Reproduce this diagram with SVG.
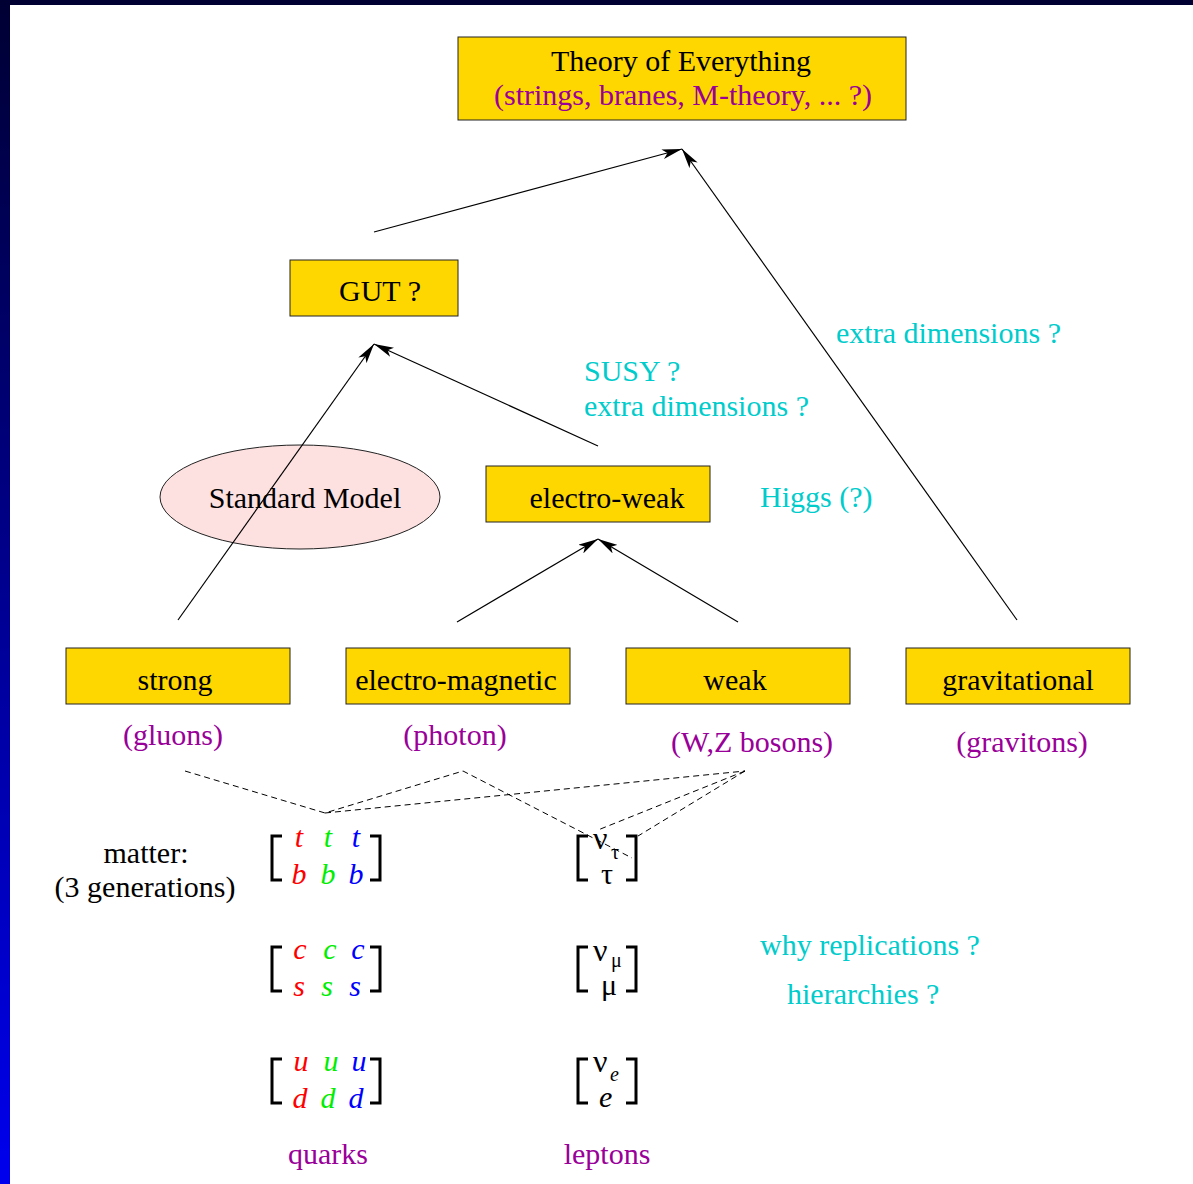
<svg xmlns="http://www.w3.org/2000/svg" width="1193" height="1184" viewBox="0 0 1193 1184">
<defs>
<linearGradient id="side" x1="0" y1="0" x2="0" y2="1">
<stop offset="0" stop-color="#000033"/>
<stop offset="1" stop-color="#0000ee"/>
</linearGradient>
<marker id="ah" viewBox="0 0 20 10" refX="20" refY="5" markerWidth="20" markerHeight="10" markerUnits="userSpaceOnUse" orient="auto">
<path d="M0,0 L20,5 L0,10 L5,5 Z" fill="#000"/>
</marker>
<style>
text{font-family:"Liberation Serif","Times New Roman",serif;font-size:30px;fill:#000}
.c{text-anchor:middle}
.p{fill:#990099}
.cy{fill:#00cccc}
.box{fill:#ffd700;stroke:#222;stroke-width:1}
.arr{stroke:#000;stroke-width:1.2;fill:none;marker-end:url(#ah)}
.dash{stroke:#000;stroke-width:1;fill:none;stroke-dasharray:6,4}
.br{stroke:#000;stroke-width:3;fill:none}
.i{font-style:italic}
.r{fill:#ff0000}.g{fill:#00ee00}.b{fill:#0000ff}
.sub{font-size:20px}
.nu{font-size:32px}
</style>
</defs>
<rect x="0" y="0" width="1193" height="1184" fill="#fff"/>
<rect x="0" y="0" width="1193" height="5" fill="#000033"/>
<rect x="0" y="0" width="10" height="1184" fill="url(#side)"/>

<g id="sm">
<ellipse cx="300" cy="497" rx="140" ry="52" fill="#fde0e0" stroke="#222" stroke-width="1"/>
<text class="c" x="305" y="508">Standard Model</text>
</g>

<g id="connectors">
<line class="arr" x1="374" y1="232" x2="682" y2="149"/>
<line class="arr" x1="1017" y1="620" x2="682" y2="149"/>
<line class="arr" x1="178" y1="620" x2="374" y2="344"/>
<line class="arr" x1="598" y1="446" x2="374" y2="344"/>
<line class="arr" x1="457" y1="622" x2="598" y2="539"/>
<line class="arr" x1="738" y1="622" x2="598" y2="539"/>
<polyline class="dash" points="185,771 325,813 463,771 632,858"/>
<line class="dash" x1="325" y1="813" x2="745" y2="771"/>
<line class="dash" x1="745" y1="771" x2="598" y2="830"/>
<line class="dash" x1="745" y1="771" x2="638" y2="836"/>
</g>

<g id="toe">
<rect class="box" x="458" y="37" width="448" height="83"/>
<text class="c" x="681" y="71">Theory of Everything</text>
<text class="c p" x="683" y="105">(strings, branes, M-theory, ... ?)</text>
</g>
<g id="gut">
<rect class="box" x="290" y="260" width="168" height="56"/>
<text class="c" x="380" y="301">GUT ?</text>
</g>
<g id="ew">
<rect class="box" x="486" y="466" width="224" height="56"/>
<text class="c" x="607" y="508">electro-weak</text>
</g>
<g id="strong">
<rect class="box" x="66" y="648" width="224" height="56"/>
<text class="c" x="175" y="690">strong</text>
<text class="c p" x="173" y="745">(gluons)</text>
</g>
<g id="em">
<rect class="box" x="346" y="648" width="224" height="56"/>
<text class="c" x="456" y="690">electro-magnetic</text>
<text class="c p" x="455" y="745">(photon)</text>
</g>
<g id="weak">
<rect class="box" x="626" y="648" width="224" height="56"/>
<text class="c" x="735" y="690">weak</text>
<text class="c p" x="752" y="752">(W,Z bosons)</text>
</g>
<g id="grav">
<rect class="box" x="906" y="648" width="224" height="56"/>
<text class="c" x="1018" y="690">gravitational</text>
<text class="c p" x="1022" y="752">(gravitons)</text>
</g>

<g id="labels">
<text class="cy" x="836" y="343">extra dimensions ?</text>
<text class="cy" x="584" y="381">SUSY ?</text>
<text class="cy" x="584" y="416">extra dimensions ?</text>
<text class="cy" x="760" y="507">Higgs (?)</text>
<text class="cy" x="760" y="955">why replications ?</text>
<text class="cy" x="787" y="1004">hierarchies ?</text>
<text class="c" x="146" y="863">matter:</text>
<text class="c" x="145" y="897">(3 generations)</text>
<text class="c p" x="328" y="1164">quarks</text>
<text class="c p" x="607" y="1164">leptons</text>
</g>

<g id="quarks">
<path class="br" d="M282,836 H272 V880 H282 M370,836 H380 V880 H370"/>
<text class="c i r" x="299" y="847">t</text><text class="c i g" x="328" y="847">t</text><text class="c i b" x="356" y="847">t</text>
<text class="c i r" x="299" y="884">b</text><text class="c i g" x="328" y="884">b</text><text class="c i b" x="356" y="884">b</text>
<path class="br" d="M282,947 H272 V991 H282 M370,947 H380 V991 H370"/>
<text class="c i r" x="300" y="959">c</text><text class="c i g" x="330" y="959">c</text><text class="c i b" x="358" y="959">c</text>
<text class="c i r" x="299" y="996">s</text><text class="c i g" x="327" y="996">s</text><text class="c i b" x="355" y="996">s</text>
<path class="br" d="M282,1059 H272 V1103 H282 M370,1059 H380 V1103 H370"/>
<text class="c i r" x="301" y="1071">u</text><text class="c i g" x="331" y="1071">u</text><text class="c i b" x="359" y="1071">u</text>
<text class="c i r" x="300" y="1108">d</text><text class="c i g" x="328" y="1108">d</text><text class="c i b" x="356" y="1108">d</text>
</g>

<g id="leptons">
<path class="br" d="M588,836 H578 V880 H588 M626,836 H636 V880 H626"/>
<text><tspan class="nu" x="593" y="849">ν</tspan><tspan class="sub" x="611" y="859">τ</tspan><tspan x="601" y="884">τ</tspan></text>
<path class="br" d="M588,947 H578 V991 H588 M626,947 H636 V991 H626"/>
<text><tspan class="nu" x="593" y="961">ν</tspan><tspan class="sub" x="611" y="967">μ</tspan><tspan x="601" y="995">μ</tspan></text>
<path class="br" d="M588,1059 H578 V1103 H588 M626,1059 H636 V1103 H626"/>
<text><tspan class="nu" x="593" y="1072">ν</tspan><tspan class="sub i" x="610" y="1081">e</tspan><tspan class="i" x="599" y="1107">e</tspan></text>
</g>
</svg>
